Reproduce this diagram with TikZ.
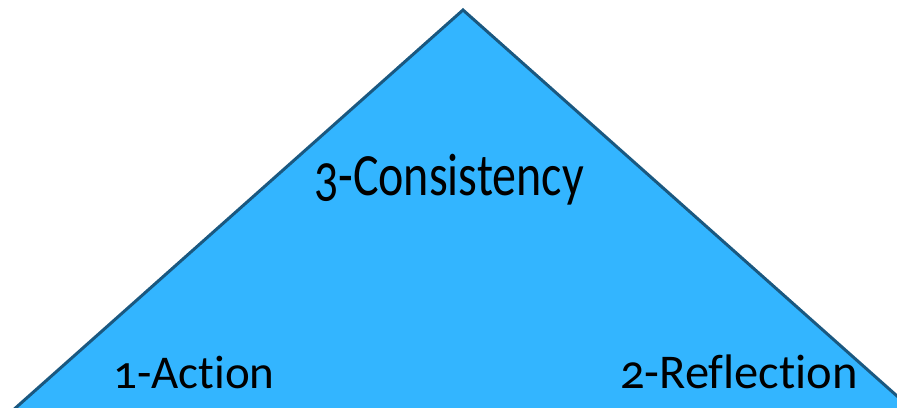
\documentclass[tikz,border=0pt]{standalone}
\usepackage{fontspec}
\setmainfont{Carlito}[Numbers=OldStyle,Ligatures=NoCommon]
\usepackage{tikz}
\usetikzlibrary{positioning,calc}
\definecolor{pyrfill}{RGB}{51,181,255}
\definecolor{pyrrule}{RGB}{26,88,128}
\tikzset{
  pyramid/.style={draw=pyrrule,line width=3pt,fill=pyrfill,line join=miter},
  corner/.style={inner sep=0pt,anchor=base},
  apexlabel/.style={inner sep=0pt,anchor=base,font=\fontsize{48}{52}\selectfont,yscale=1.25}
}
\begin{document}
\begin{tikzpicture}[x=1pt,y=-1pt]
  \useasboundingbox (0,0) rectangle (897,407);
  \clip (0,0) rectangle (897,407);
  \coordinate (top) at (463,10);
  \coordinate (left) at (-43,460);
  \coordinate (right) at (969,460);
  \draw[pyramid] (left) -- (top) -- (right) -- cycle;
  \node[apexlabel] (consistency) at (449,195) {3-Consistency};
  \node[corner,font=\fontsize{47}{51}\selectfont] (action) at (194,388) {1-Action};
  \node[corner,font=\fontsize{48.5}{52}\selectfont] (reflection) at (739,388) {2-Reflection};
\end{tikzpicture}
\end{document}
